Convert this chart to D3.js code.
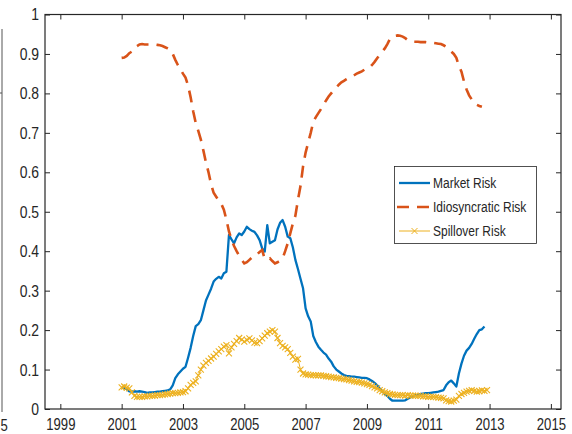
<!DOCTYPE html>
<html><head><meta charset="utf-8">
<script src="https://cdn.jsdelivr.net/npm/d3@7"></script>
<style>
body{margin:0;background:#fff}
svg text{font-family:"Liberation Sans",Arial,sans-serif;fill:#262626}
</style></head><body>
<svg id="c" width="572" height="434"></svg>
<script>
const startYear = 2001;
const seriesNames = ["Market Risk", "Idiosyncratic Risk", "Spillover Risk"];
// monthly values, Jan 2001 onwards
const marketRisk = [
0.055,0.054,0.05,0.045,0.044,0.045,0.044,0.045,0.044,0.043,0.041,0.042,
0.042,0.043,0.044,0.044,0.045,0.046,0.047,0.05,0.06,0.078,0.088,0.095,
0.102,0.107,0.13,0.155,0.185,0.21,0.215,0.225,0.25,0.275,0.29,0.305,
0.323,0.33,0.335,0.331,0.344,0.348,0.441,0.43,0.42,0.435,0.445,0.441,
0.45,0.462,0.456,0.452,0.449,0.44,0.428,0.407,0.399,0.466,0.42,0.424,
0.428,0.455,0.472,0.479,0.462,0.437,0.433,0.41,0.378,0.355,0.33,0.306,
0.255,0.235,0.222,0.185,0.17,0.158,0.15,0.143,0.138,0.128,0.12,0.108,
0.1,0.095,0.09,0.086,0.084,0.083,0.082,0.082,0.081,0.08,0.079,0.079,
0.078,0.075,0.071,0.066,0.06,0.052,0.045,0.038,0.033,0.026,0.021,0.021,
0.021,0.021,0.021,0.022,0.026,0.029,0.032,0.035,0.036,0.038,0.039,0.04,
0.04,0.041,0.042,0.043,0.044,0.046,0.048,0.06,0.068,0.072,0.065,0.057,
0.09,0.115,0.135,0.148,0.155,0.165,0.178,0.19,0.2,0.202,0.209];
const idioRisk = [
0.89,0.891,0.895,0.902,0.906,0.915,0.92,0.924,0.925,0.924,0.924,0.924,
0.924,0.924,0.923,0.922,0.92,0.917,0.914,0.91,0.9,0.885,0.872,0.861,
0.85,0.84,0.82,0.79,0.755,0.725,0.705,0.683,0.655,0.625,0.6,0.57,
0.548,0.538,0.528,0.52,0.505,0.48,0.45,0.43,0.413,0.4,0.388,0.378,
0.369,0.372,0.378,0.384,0.39,0.392,0.398,0.403,0.38,0.38,0.382,0.375,
0.369,0.372,0.376,0.382,0.4,0.42,0.445,0.47,0.49,0.53,0.565,0.615,
0.65,0.675,0.7,0.728,0.74,0.75,0.76,0.772,0.782,0.792,0.8,0.808,
0.815,0.822,0.828,0.832,0.836,0.84,0.842,0.846,0.85,0.853,0.856,0.86,
0.862,0.865,0.872,0.88,0.889,0.898,0.906,0.914,0.925,0.938,0.944,0.946,
0.947,0.946,0.944,0.94,0.935,0.932,0.931,0.931,0.931,0.93,0.93,0.93,
0.929,0.929,0.928,0.927,0.926,0.925,0.922,0.918,0.912,0.906,0.9,0.89,
0.87,0.855,0.83,0.81,0.795,0.785,0.777,0.771,0.768,0.766];
const spillRisk = [
0.055,0.057,0.054,0.052,0.042,0.033,0.031,0.031,0.031,0.032,0.032,0.033,
0.033,0.034,0.035,0.035,0.036,0.037,0.038,0.039,0.04,0.04,0.041,0.042,
0.043,0.045,0.052,0.061,0.066,0.07,0.085,0.1,0.11,0.117,0.122,0.128,
0.133,0.14,0.146,0.152,0.158,0.162,0.141,0.156,0.165,0.172,0.18,0.176,
0.171,0.175,0.179,0.174,0.168,0.167,0.172,0.179,0.186,0.192,0.196,0.2,
0.196,0.18,0.167,0.16,0.156,0.152,0.142,0.133,0.125,0.127,0.1,0.09,
0.088,0.087,0.086,0.086,0.085,0.085,0.085,0.084,0.083,0.082,0.081,0.08,
0.079,0.078,0.077,0.076,0.075,0.073,0.072,0.07,0.069,0.068,0.067,0.065,
0.063,0.061,0.058,0.055,0.052,0.048,0.045,0.042,0.04,0.038,0.037,0.036,
0.035,0.035,0.035,0.034,0.035,0.034,0.034,0.034,0.033,0.033,0.032,0.032,
0.031,0.031,0.031,0.03,0.029,0.028,0.027,0.022,0.02,0.019,0.021,0.024,
0.033,0.038,0.041,0.044,0.046,0.048,0.046,0.044,0.045,0.047,0.046,0.048];
const xTickYears = [1999,2001,2003,2005,2007,2009,2011,2013,2015];
const yTickValues = [0,0.1,0.2,0.3,0.4,0.5,0.6,0.7,0.8,0.9,1];
const yTickLabels = ["0","0.1","0.2","0.3","0.4","0.5","0.6","0.7","0.8","0.9","1"];
const colors = ["#0072BD", "#D95319", "#EDB120"];

const svg = d3.select("#c");
const L = 45, R = 561, T = 14.5, B = 409;
const x = d3.scaleLinear().domain([1998.5, 2015.33]).range([L, R]);
const y = d3.scaleLinear().domain([0, 1]).range([B, T]);
const ink = "#262626";
const SX = 0.82; // horizontal condensing of text

// neighbouring subplot remnant
svg.append("line").attr("x1", 2).attr("x2", 2).attr("y1", 29).attr("y2", 412)
  .attr("stroke", "#555").attr("stroke-width", 1);
svg.append("line").attr("x1", 0).attr("x2", 2).attr("y1", 93).attr("y2", 93)
  .attr("stroke", "#555").attr("stroke-width", 1);
svg.append("g").attr("transform", "translate(0.5,430.5)")
  .append("text").attr("transform", `scale(${SX},1)`).attr("font-size", 16).text("5");

const toPts = arr => arr.map((v, i) => [startYear + i / 12, v]);
const line = d3.line().x(d => x(d[0])).y(d => y(d[1]));

const plot = svg.append("g");
plot.append("path").datum(toPts(marketRisk)).attr("d", line)
  .attr("fill", "none").attr("stroke", colors[0]).attr("stroke-width", 2.3).attr("stroke-linejoin", "round");
plot.append("path").datum(toPts(idioRisk)).attr("d", line)
  .attr("fill", "none").attr("stroke", colors[1]).attr("stroke-width", 2.6)
  .attr("stroke-dasharray", "12,8");
plot.append("path").datum(toPts(spillRisk)).attr("d", line)
  .attr("fill", "none").attr("stroke", colors[2]).attr("stroke-width", 1);
const xm = "M-3,-3L3,3M-3,3L3,-3";
plot.selectAll("path.mk").data(toPts(spillRisk)).join("path").attr("class", "mk")
  .attr("transform", d => `translate(${x(d[0])},${y(d[1])})`)
  .attr("d", xm).attr("fill", "none").attr("stroke", colors[2]).attr("stroke-width", 1.1);

// axes
const fmtY = d => yTickLabels[yTickValues.indexOf(d)];
const gx = svg.append("g").attr("transform", `translate(0,${B})`)
  .call(d3.axisBottom(x).tickValues(xTickYears).tickFormat(d3.format("d"))
    .tickSizeInner(-5).tickSizeOuter(0).tickPadding(10));
const gxt = svg.append("g").attr("transform", `translate(0,${T})`)
  .call(d3.axisTop(x).tickValues(xTickYears).tickFormat("").tickSizeInner(-5).tickSizeOuter(0));
const gy = svg.append("g").attr("transform", `translate(${L},0)`)
  .call(d3.axisLeft(y).tickValues(yTickValues).tickFormat(fmtY)
    .tickSizeInner(-5).tickSizeOuter(0).tickPadding(6));
const gyr = svg.append("g").attr("transform", `translate(${R},0)`)
  .call(d3.axisRight(y).tickValues(yTickValues).tickFormat("").tickSizeInner(-5).tickSizeOuter(0));
[gx, gxt, gy, gyr].forEach(g => {
  g.select(".domain").remove();
  g.selectAll(".tick line").attr("stroke", ink);
  g.selectAll("text").attr("font-size", 17).attr("font-family", null).attr("fill", ink);
});
gx.selectAll(".tick text").attr("font-size", 16).attr("transform", `scale(${SX},1)`);
gy.selectAll(".tick text").attr("x", -6 / SX).attr("transform", `scale(${SX},1)`);
svg.append("rect").attr("x", L).attr("y", T).attr("width", R - L).attr("height", B - T)
  .attr("fill", "none").attr("stroke", ink).attr("stroke-width", 1.2);

// legend
const lg = svg.append("g");
lg.append("rect").attr("x", 394.5).attr("y", 166.5).attr("width", 142).attr("height", 77)
  .attr("fill", "#fff").attr("stroke", ink).attr("stroke-width", 0.8);
const ly = [183, 207, 231];
seriesNames.forEach((name, i) => {
  const ln = lg.append("line").attr("x1", 399).attr("x2", 430).attr("y1", ly[i]).attr("y2", ly[i])
    .attr("stroke", colors[i]).attr("stroke-width", i === 2 ? 1 : 2.3);
  if (i === 1) ln.attr("stroke-dasharray", "12,8").attr("x1", 397).attr("stroke-width", 2.6);
  if (i === 2) lg.append("path").attr("transform", `translate(414.5,${ly[i]})`).attr("d", xm)
    .attr("fill", "none").attr("stroke", colors[2]);
  lg.append("g").attr("transform", `translate(433,${ly[i]})`)
    .append("text").attr("transform", `scale(0.8,1)`).attr("dy", "0.36em")
    .attr("font-size", 15).text(name);
});
</script></body></html>
